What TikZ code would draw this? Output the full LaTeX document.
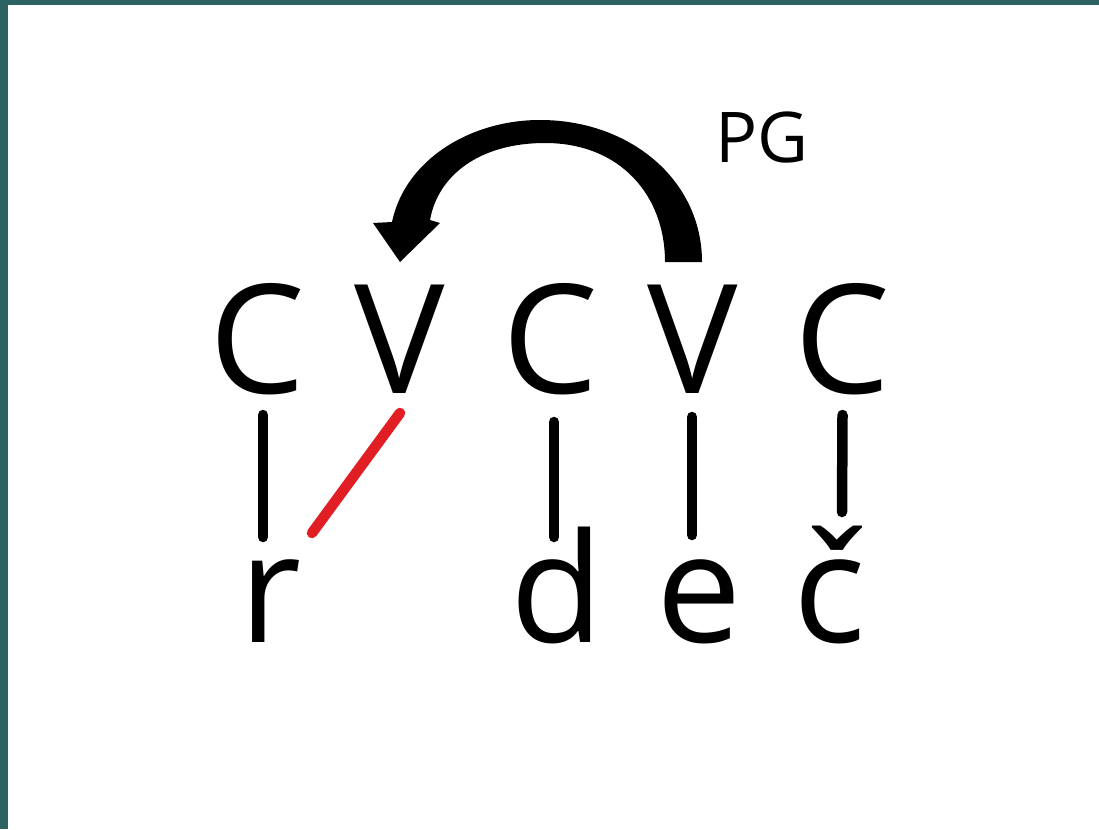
\documentclass[tikz,border=0pt]{standalone}
\usepackage{fontspec}
\setmainfont{Open Sans}
\usetikzlibrary{calc}
\definecolor{frame}{RGB}{44,98,97}
\definecolor{linkred}{RGB}{226,30,37}
\begin{document}
\begin{tikzpicture}[x=1pt,y=-1pt,
  seg/.style={font=\fontsize{152}{152}\selectfont, inner sep=0pt, anchor=base},
  lbl/.style={font=\fontsize{70}{70}\selectfont, inner sep=0pt, anchor=base},
  assoc/.style={line width=10.5pt, line cap=round},
  delink/.style={assoc, draw=linkred}]
\useasboundingbox (0,0) rectangle (1099,829);
\fill[white] (0,0) rectangle (1099,829);
% slide frame
\fill[frame] (0,0) rectangle (8,829);
\fill[frame] (0,0) rectangle (1099,5);

% skeleton tier
\node[seg] (c1) at (257,393) {C};
\node[seg] (v1) at (400,393) {V};
\node[seg] (c2) at (550,393) {C};
\node[seg] (v2) at (693,393) {V};
\node[seg] (c3) at (842,393) {C};

% melody tier
\node[seg] (r)  at (271,642) {r};
\node[seg] (d)  at (557,642) {d};
\node[seg] (e)  at (699,642) {e};
\node[seg] (cc) at (830,642) {č};

% association lines
\draw[assoc] ($(c1.base)+(6,22)$) -- ($(r.base)+(-8,-105)$);
\draw[assoc] ($(c2.base)+(4,29)$) -- ($(d.base)+(-3,-105)$);
\draw[assoc] ($(v2.base)+(-1,24)$) -- ($(e.base)+(-7,-107)$);
\draw[assoc] ($(c3.base)+(0.5,22)$) -- ($(cc.base)+(12,-130)$);
\draw[delink] ($(v1.base)+(0,20)$) -- ($(r.base)+(41,-109)$);

% proper government arrow
\fill[black] (702,262) .. controls (702,180) and (630,120) .. (540,120)
  .. controls (470,120) and (405,160) .. (392,222)
  -- (373,223) -- (400,262) -- (440,223) -- (430,220)
  .. controls (438,175) and (480,143) .. (545,143)
  .. controls (620,143) and (665,195) .. (665,262) -- cycle;
\node[lbl] (pg) at (762,163) {PG};
\end{tikzpicture}
\end{document}
